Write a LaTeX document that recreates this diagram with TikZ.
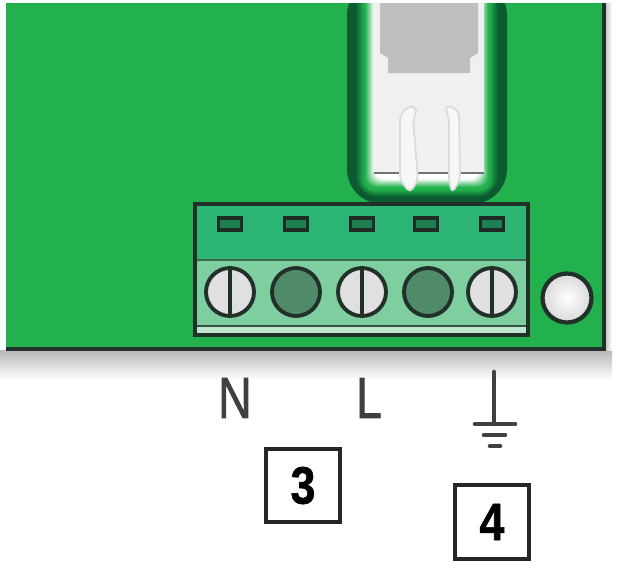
\documentclass[tikz,border=0pt]{standalone}
\usepackage{fontspec}
\setmainfont{Liberation Sans}
\newfontfamily\heavyfont[FakeBold=1.4]{Liberation Sans}
\newfontfamily\blackfont[FakeBold=1.2]{Liberation Sans Bold}
\usetikzlibrary{positioning}
\definecolor{board}{HTML}{22B14C}
\definecolor{blockTop}{HTML}{2DB573}
\definecolor{blockLow}{HTML}{7FCE9F}
\definecolor{relayDark}{HTML}{0B5A30}
\definecolor{screwDark}{HTML}{4F8A69}
\definecolor{edge}{HTML}{22302A}
\newcommand{\thin}[2][.8]{\scalebox{#1}[1]{#2}}
\tikzset{
 screwhead/.style={circle, draw=edge, line width=2.2pt, minimum size=0.96cm, inner sep=0pt, fill=#1},
 ledslot/.style={rectangle, draw=edge!90!black, line width=2.2pt, fill=blockTop!70!black, minimum width=0.46cm, minimum height=0.24cm, inner sep=0pt},
 numbox/.style={rectangle, draw=black!85, line width=2.3pt, minimum size=1.47cm, inner sep=0pt, font=\fontsize{30}{30}\blackfont},
 letter/.style={inner sep=0pt, text=black!75, font=\fontsize{33}{33}\heavyfont},
 earth/.style={black!75, line width=#1, line cap=round},
 relaypin/.style={draw=black!14, line width=1pt, fill=black!3, rounded corners=3pt}
}
\begin{document}
\begin{tikzpicture}[x=0.02cm, y=-0.02cm]
 \useasboundingbox (0, 0) rectangle (621, 569);
 \fill[white] (0, 0) rectangle (621, 569);
 % shadow below the board
 \shade[top color=black!28, bottom color=white] (0, 350) rectangle (612, 380);
 \shade[left color=black!28, right color=white] (604, 0) rectangle (612, 350);
 % board
 \fill[board] (6, 0) rectangle (604, 349);
 \draw[edge, line width=2pt] (6, 349) -- (604, 349) -- (604, 0);
 % relay
 \fill[relayDark, rounded corners=20] (347, -20) rectangle (507, 204);
 \foreach \i in {8,...,17} {
  \pgfmathtruncatemacro{\p}{100*(17-\i)/9}
  \fill[relayDark!\p!board, rounded corners=18-0.7*\i] (347+\i, -20) rectangle (507-\i, 204-0.8*\i);
 }
 \foreach \i in {18,...,27} {
  \pgfmathtruncatemacro{\p}{100*(27-\i)/9}
  \fill[board!\p!white, rounded corners=6] (347+\i, -20) rectangle (507-\i, 204-0.9*\i);
 }
 \fill[black!6] (374, 0) rectangle (484, 173);
 \draw[black!55, line width=1pt] (374, 173) -- (484, 173);
 \fill[black!25] (380, 0) -- (478, 0) -- (478, 53) -- (470, 58) -- (470, 73) -- (388, 73) -- (388, 58) -- (380, 53) -- cycle;
 % relay pins
 \draw[relaypin] (410, 193) -- (400, 180) -- (400, 115) -- (410, 105) -- (418, 110) -- (413, 118) -- (418, 180) -- cycle;
 \draw[relaypin] (452, 193) -- (460, 180) -- (459, 110) -- (445, 105) -- (449, 120) -- (449, 180) -- cycle;
 % terminal block
 \fill[blockTop] (195, 204) rectangle (528, 260);
 \fill[blockLow] (195, 260) rectangle (528, 335);
 \fill[blockLow!50!white] (195, 327) rectangle (528, 333);
 \draw[black!50!blockLow, line width=1.5pt] (195, 260) -- (528, 260);
 \draw[black!60!blockLow, line width=1pt] (195, 326) -- (528, 326);
 \draw[edge, line width=1.8pt] (195, 204) rectangle (528, 335);
 % leds and screws
 \foreach \n/\x in {1/230, 2/296, 3/362, 4/426, 5/492}
  \node[ledslot] (led\n) at (\x, 224) {};
 \node[screwhead=black!12] (S1) at (230, 292) {};
 \node[screwhead=screwDark] (S2) at (296, 292) {};
 \node[screwhead=black!12] (S3) at (362, 292) {};
 \node[screwhead=screwDark] (S4) at (428, 292) {};
 \node[screwhead=black!12] (S5) at (492, 292) {};
 \foreach \n in {1, 3, 5}
  \draw[edge, line width=2pt] (S\n.north) -- (S\n.south);
 % mounting hole
 \node[circle, draw=edge, line width=2.4pt, minimum size=0.98cm, inner sep=0pt, inner color=white, outer color=black!15] (hole) at (567, 298) {};
 % labels
 \node[letter] (N) at (235, 398) {\thin{N}};
 \node[letter] (L) at (369, 398) {\thin{L}};
 \coordinate (gtop) at (494, 372);
 \coordinate (g1) at (494, 424);
 \draw[earth=2.6pt] (gtop) -- (g1);
 \draw[earth=2.6pt] (475, 424) -- (515, 424);
 \draw[earth=2.6pt] (484, 435) -- (505, 435);
 \draw[earth=2.6pt] (490, 446) -- (500, 446);
 % numbers
 \node[numbox] (three) at (303, 485.5) {\thin[.85]{3}};
 \node[numbox] (four) at (492, 522) {\thin[.85]{4}};
 % top strip
 \fill[white] (0, 0) rectangle (621, 3);
\end{tikzpicture}
\end{document}
